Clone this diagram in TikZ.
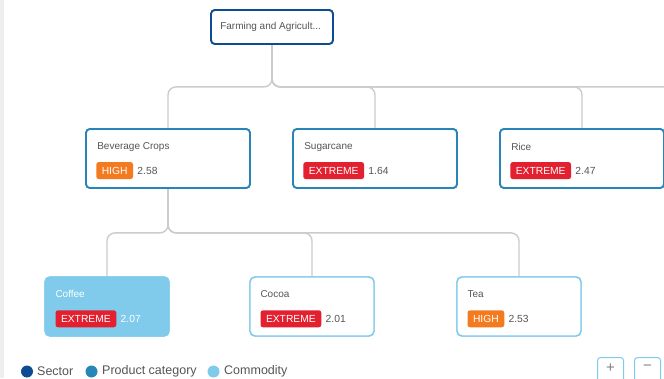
\documentclass[tikz,border=0pt]{standalone}
\usepackage{fontspec}
\setmainfont{Liberation Sans}
\definecolor{sectorc}{HTML}{0D4C92}
\definecolor{prodc}{HTML}{2785B8}
\definecolor{commc}{HTML}{80CBEB}
\definecolor{extc}{HTML}{E3202F}
\definecolor{highc}{HTML}{F47A20}
\definecolor{connc}{HTML}{CCCCCC}
\definecolor{txtc}{HTML}{555555}
\definecolor{edgec}{HTML}{EEEEEE}
\tikzset{
  conn/.style={draw=connc, line width=1.4pt, rounded corners=8pt},
  sectorbox/.style={draw=sectorc, line width=1.8pt, fill=white, rounded corners=4pt, minimum width=122pt, minimum height=34pt, inner sep=0pt},
  prodbox/.style={draw=prodc, line width=1.8pt, fill=white, rounded corners=4pt, minimum width=164pt, minimum height=59pt, inner sep=0pt},
  commbox/.style={draw=commc, line width=1.4pt, fill=white, rounded corners=5pt, minimum width=124pt, minimum height=59pt, inner sep=0pt},
  commfill/.style={commbox, fill=commc},
  titletxt/.style={anchor=west, inner sep=0pt, text=txtc, font=\fontsize{10}{11}\selectfont},
  badge/.style={anchor=west, rounded corners=2.5pt, text=white, inner xsep=5.5pt, minimum height=17pt, inner ysep=0pt, font=\fontsize{10.3}{11}\selectfont},
  valtxt/.style={anchor=west, inner sep=0pt, text=txtc, font=\fontsize{10.3}{11}\selectfont},
  legtxt/.style={anchor=west, inner sep=0pt, text=txtc, font=\fontsize{12.5}{13}\selectfont},
  legdot/.style={circle, minimum size=12pt, inner sep=0pt},
  zoombtn/.style={draw=commc, line width=1pt, fill=white, rounded corners=3pt, minimum width=26pt, minimum height=30pt, inner sep=0pt, anchor=north west},
  btntxt/.style={text=gray, font=\fontsize{15}{15}\selectfont, inner sep=0pt}
}
\begin{document}
\begin{tikzpicture}[x=1pt,y=1pt]
\useasboundingbox (0,0) rectangle (664,378);
\clip (0,0) rectangle (664,378);
\fill[white] (0,0) rectangle (664,378);
\fill[edgec] (0,0) rectangle (3.5,378);

% nodes
\node[sectorbox] (root) at (272,351) {};
\node[prodbox] (bev) at (168,219.5) {};
\node[prodbox] (sug) at (375,219.5) {};
\node[prodbox] (rice) at (582,219.5) {};
\node[commfill] (cof) at (107,71.5) {};
\node[commbox] (coc) at (312,71.5) {};
\node[commbox] (tea) at (519,71.5) {};
\coordinate (offR) at (800,219.5);

% connectors
\draw[conn] (root.south) -- ++(0,-42) -| (bev.north);
\draw[conn] (root.south) -- ++(0,-42) -| (sug.north);
\draw[conn] (root.south) -- ++(0,-42) -| (rice.north);
\draw[conn] (root.south) -- ++(0,-42) -| ([yshift=29.5pt]offR);
\draw[conn] (bev.south) -- ++(0,-44) -| (cof.north);
\draw[conn] (bev.south) -- ++(0,-44) -| (coc.north);
\draw[conn] (bev.south) -- ++(0,-44) -| (tea.north);

% redraw boxes on top
\node[sectorbox] at (root) {};
\node[prodbox] at (bev) {};
\node[prodbox] at (sug) {};
\node[prodbox] at (rice) {};
\node[commfill] at (cof) {};
\node[commbox] at (coc) {};
\node[commbox] at (tea) {};

% contents
\node[titletxt] (rootT) at ([xshift=10pt]root.west) {Farming and Agricult...};

\node[titletxt] (bevT) at ([xshift=12pt,yshift=-19pt]bev.north west) {Beverage Crops};
\node[badge, fill=highc] (bevB) at ([xshift=11pt,yshift=-42.5pt]bev.north west) {HIGH};
\node[valtxt] (bevV) at ([xshift=4pt]bevB.east) {2.58};

\node[titletxt] (sugT) at ([xshift=12pt,yshift=-19pt]sug.north west) {Sugarcane};
\node[badge, fill=extc] (sugB) at ([xshift=11pt,yshift=-42.5pt]sug.north west) {EXTREME};
\node[valtxt] (sugV) at ([xshift=4pt]sugB.east) {1.64};

\node[titletxt] (riceT) at ([xshift=12pt,yshift=-19pt]rice.north west) {Rice};
\node[badge, fill=extc] (riceB) at ([xshift=11pt,yshift=-42.5pt]rice.north west) {EXTREME};
\node[valtxt] (riceV) at ([xshift=4pt]riceB.east) {2.47};

\node[titletxt, text=white] (cofT) at ([xshift=11pt,yshift=-18pt]cof.north west) {Coffee};
\node[badge, fill=extc] (cofB) at ([xshift=11pt,yshift=-42.5pt]cof.north west) {EXTREME};
\node[valtxt, text=white] (cofV) at ([xshift=4pt]cofB.east) {2.07};

\node[titletxt] (cocT) at ([xshift=11pt,yshift=-18pt]coc.north west) {Cocoa};
\node[badge, fill=extc] (cocB) at ([xshift=11pt,yshift=-42.5pt]coc.north west) {EXTREME};
\node[valtxt] (cocV) at ([xshift=4pt]cocB.east) {2.01};

\node[titletxt] (teaT) at ([xshift=11pt,yshift=-18pt]tea.north west) {Tea};
\node[badge, fill=highc] (teaB) at ([xshift=11pt,yshift=-42.5pt]tea.north west) {HIGH};
\node[valtxt] (teaV) at ([xshift=4pt]teaB.east) {2.53};

% legend
\node[legdot, fill=sectorc] (lg1) at (27,6.5) {};
\node[legtxt] (lt1) at (37,6.5) {Sector};
\node[legdot, fill=prodc] (lg2) at (91.5,6.5) {};
\node[legtxt] (lt2) at (102,6.5) {Product category};
\node[legdot, fill=commc] (lg3) at (213.5,6.5) {};
\node[legtxt] (lt3) at (224,6.5) {Commodity};

% zoom buttons
\node[zoombtn] (zin) at (597,21) {};
\node[btntxt] (zinT) at ([yshift=-11pt]zin.north) {+};
\node[zoombtn] (zout) at (634,21) {};
\node[btntxt] (zoutT) at ([yshift=-11pt]zout.north) {\char"2212};
\end{tikzpicture}
\end{document}
